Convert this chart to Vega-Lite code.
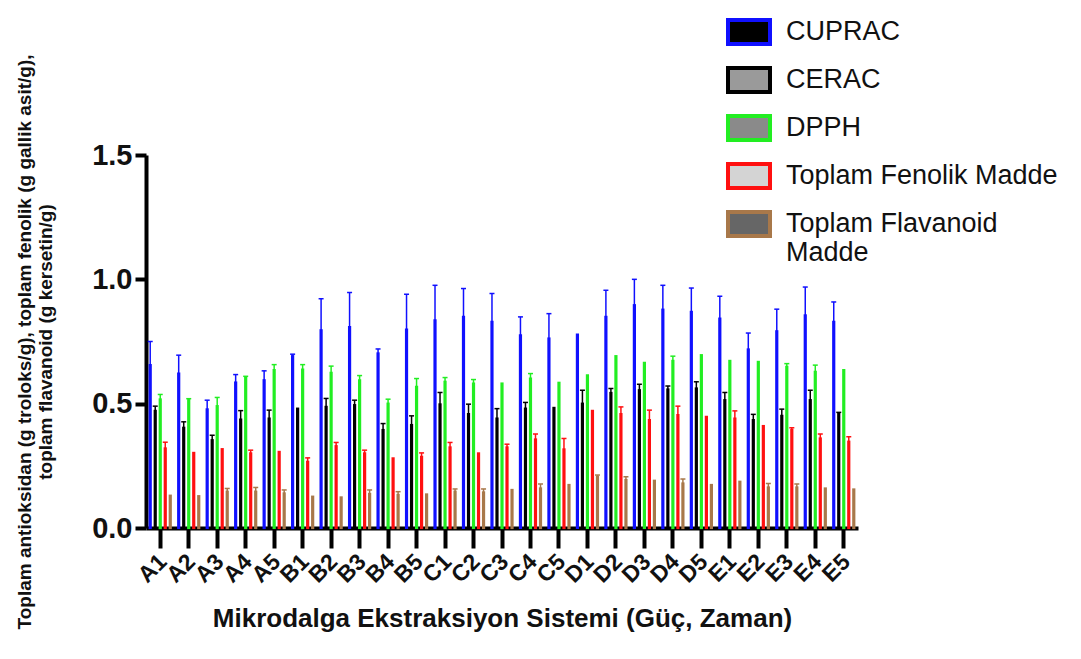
{
  "$schema": "https://vega.github.io/schema/vega-lite/v6.json",
  "width": 712,
  "height": 373,
  "autosize": {"type": "none"},
  "padding": {"left": 146, "top": 155, "right": 223, "bottom": 131},
  "config": {"view": {"stroke": null}, "font": "Liberation Sans"},
  "datasets": {
    "d": [
      {"k":"A1","s":"CUPRAC","v":0.655,"e":0.75},{"k":"A1","s":"CERAC","v":0.471,"e":0.49},{"k":"A1","s":"DPPH","v":0.517,"e":0.537},{"k":"A1","s":"Toplam Fenolik Madde","v":0.32,"e":0.345},{"k":"A1","s":"Toplam Flavanoid Madde","v":0.13,"e":0.13},
      {"k":"A2","s":"CUPRAC","v":0.621,"e":0.695},{"k":"A2","s":"CERAC","v":0.403,"e":0.427},{"k":"A2","s":"DPPH","v":0.514,"e":0.52},{"k":"A2","s":"Toplam Fenolik Madde","v":0.302,"e":0.302},{"k":"A2","s":"Toplam Flavanoid Madde","v":0.128,"e":0.128},
      {"k":"A3","s":"CUPRAC","v":0.477,"e":0.514},{"k":"A3","s":"CERAC","v":0.353,"e":0.373},{"k":"A3","s":"DPPH","v":0.49,"e":0.525},{"k":"A3","s":"Toplam Fenolik Madde","v":0.317,"e":0.317},{"k":"A3","s":"Toplam Flavanoid Madde","v":0.146,"e":0.159},
      {"k":"A4","s":"CUPRAC","v":0.585,"e":0.617},{"k":"A4","s":"CERAC","v":0.436,"e":0.472},{"k":"A4","s":"DPPH","v":0.605,"e":0.61},{"k":"A4","s":"Toplam Fenolik Madde","v":0.3,"e":0.313},{"k":"A4","s":"Toplam Flavanoid Madde","v":0.146,"e":0.163},
      {"k":"A5","s":"CUPRAC","v":0.594,"e":0.632},{"k":"A5","s":"CERAC","v":0.44,"e":0.474},{"k":"A5","s":"DPPH","v":0.635,"e":0.657},{"k":"A5","s":"Toplam Fenolik Madde","v":0.306,"e":0.306},{"k":"A5","s":"Toplam Flavanoid Madde","v":0.139,"e":0.153},
      {"k":"B1","s":"CUPRAC","v":0.691,"e":0.699},{"k":"B1","s":"CERAC","v":0.48,"e":0.48},{"k":"B1","s":"DPPH","v":0.637,"e":0.657},{"k":"B1","s":"Toplam Fenolik Madde","v":0.266,"e":0.282},{"k":"B1","s":"Toplam Flavanoid Madde","v":0.126,"e":0.126},
      {"k":"B2","s":"CUPRAC","v":0.795,"e":0.922},{"k":"B2","s":"CERAC","v":0.487,"e":0.521},{"k":"B2","s":"DPPH","v":0.624,"e":0.651},{"k":"B2","s":"Toplam Fenolik Madde","v":0.329,"e":0.344},{"k":"B2","s":"Toplam Flavanoid Madde","v":0.123,"e":0.123},
      {"k":"B3","s":"CUPRAC","v":0.808,"e":0.947},{"k":"B3","s":"CERAC","v":0.494,"e":0.514},{"k":"B3","s":"DPPH","v":0.594,"e":0.613},{"k":"B3","s":"Toplam Fenolik Madde","v":0.3,"e":0.313},{"k":"B3","s":"Toplam Flavanoid Madde","v":0.137,"e":0.153},
      {"k":"B4","s":"CUPRAC","v":0.702,"e":0.72},{"k":"B4","s":"CERAC","v":0.394,"e":0.42},{"k":"B4","s":"DPPH","v":0.5,"e":0.518},{"k":"B4","s":"Toplam Fenolik Madde","v":0.28,"e":0.28},{"k":"B4","s":"Toplam Flavanoid Madde","v":0.133,"e":0.146},
      {"k":"B5","s":"CUPRAC","v":0.798,"e":0.94},{"k":"B5","s":"CERAC","v":0.414,"e":0.451},{"k":"B5","s":"DPPH","v":0.568,"e":0.601},{"k":"B5","s":"Toplam Fenolik Madde","v":0.286,"e":0.302},{"k":"B5","s":"Toplam Flavanoid Madde","v":0.135,"e":0.135},
      {"k":"C1","s":"CUPRAC","v":0.835,"e":0.976},{"k":"C1","s":"CERAC","v":0.497,"e":0.545},{"k":"C1","s":"DPPH","v":0.588,"e":0.605},{"k":"C1","s":"Toplam Fenolik Madde","v":0.324,"e":0.344},{"k":"C1","s":"Toplam Flavanoid Madde","v":0.146,"e":0.157},
      {"k":"C2","s":"CUPRAC","v":0.849,"e":0.963},{"k":"C2","s":"CERAC","v":0.458,"e":0.498},{"k":"C2","s":"DPPH","v":0.581,"e":0.597},{"k":"C2","s":"Toplam Fenolik Madde","v":0.3,"e":0.3},{"k":"C2","s":"Toplam Flavanoid Madde","v":0.143,"e":0.157},
      {"k":"C3","s":"CUPRAC","v":0.829,"e":0.943},{"k":"C3","s":"CERAC","v":0.44,"e":0.48},{"k":"C3","s":"DPPH","v":0.581,"e":0.581},{"k":"C3","s":"Toplam Fenolik Madde","v":0.324,"e":0.337},{"k":"C3","s":"Toplam Flavanoid Madde","v":0.153,"e":0.153},
      {"k":"C4","s":"CUPRAC","v":0.775,"e":0.849},{"k":"C4","s":"CERAC","v":0.48,"e":0.505},{"k":"C4","s":"DPPH","v":0.601,"e":0.621},{"k":"C4","s":"Toplam Fenolik Madde","v":0.356,"e":0.378},{"k":"C4","s":"Toplam Flavanoid Madde","v":0.159,"e":0.177},
      {"k":"C5","s":"CUPRAC","v":0.762,"e":0.862},{"k":"C5","s":"CERAC","v":0.483,"e":0.483},{"k":"C5","s":"DPPH","v":0.584,"e":0.584},{"k":"C5","s":"Toplam Fenolik Madde","v":0.316,"e":0.36},{"k":"C5","s":"Toplam Flavanoid Madde","v":0.173,"e":0.173},
      {"k":"D1","s":"CUPRAC","v":0.778,"e":0.778},{"k":"D1","s":"CERAC","v":0.5,"e":0.554},{"k":"D1","s":"DPPH","v":0.614,"e":0.614},{"k":"D1","s":"Toplam Fenolik Madde","v":0.471,"e":0.471},{"k":"D1","s":"Toplam Flavanoid Madde","v":0.206,"e":0.213},
      {"k":"D2","s":"CUPRAC","v":0.849,"e":0.956},{"k":"D2","s":"CERAC","v":0.543,"e":0.561},{"k":"D2","s":"DPPH","v":0.691,"e":0.691},{"k":"D2","s":"Toplam Fenolik Madde","v":0.458,"e":0.487},{"k":"D2","s":"Toplam Flavanoid Madde","v":0.193,"e":0.206},
      {"k":"D3","s":"CUPRAC","v":0.896,"e":1.0},{"k":"D3","s":"CERAC","v":0.554,"e":0.578},{"k":"D3","s":"DPPH","v":0.664,"e":0.664},{"k":"D3","s":"Toplam Fenolik Madde","v":0.434,"e":0.474},{"k":"D3","s":"Toplam Flavanoid Madde","v":0.19,"e":0.19},
      {"k":"D4","s":"CUPRAC","v":0.878,"e":0.976},{"k":"D4","s":"CERAC","v":0.557,"e":0.571},{"k":"D4","s":"DPPH","v":0.672,"e":0.691},{"k":"D4","s":"Toplam Fenolik Madde","v":0.454,"e":0.49},{"k":"D4","s":"Toplam Flavanoid Madde","v":0.179,"e":0.197},
      {"k":"D5","s":"CUPRAC","v":0.869,"e":0.965},{"k":"D5","s":"CERAC","v":0.561,"e":0.588},{"k":"D5","s":"DPPH","v":0.695,"e":0.695},{"k":"D5","s":"Toplam Fenolik Madde","v":0.447,"e":0.447},{"k":"D5","s":"Toplam Flavanoid Madde","v":0.173,"e":0.173},
      {"k":"E1","s":"CUPRAC","v":0.842,"e":0.932},{"k":"E1","s":"CERAC","v":0.514,"e":0.545},{"k":"E1","s":"DPPH","v":0.672,"e":0.672},{"k":"E1","s":"Toplam Fenolik Madde","v":0.44,"e":0.471},{"k":"E1","s":"Toplam Flavanoid Madde","v":0.186,"e":0.186},
      {"k":"E2","s":"CUPRAC","v":0.718,"e":0.784},{"k":"E2","s":"CERAC","v":0.434,"e":0.457},{"k":"E2","s":"DPPH","v":0.668,"e":0.668},{"k":"E2","s":"Toplam Fenolik Madde","v":0.41,"e":0.41},{"k":"E2","s":"Toplam Flavanoid Madde","v":0.163,"e":0.179},
      {"k":"E3","s":"CUPRAC","v":0.791,"e":0.88},{"k":"E3","s":"CERAC","v":0.451,"e":0.478},{"k":"E3","s":"DPPH","v":0.648,"e":0.661},{"k":"E3","s":"Toplam Fenolik Madde","v":0.394,"e":0.403},{"k":"E3","s":"Toplam Flavanoid Madde","v":0.163,"e":0.177},
      {"k":"E4","s":"CUPRAC","v":0.855,"e":0.969},{"k":"E4","s":"CERAC","v":0.514,"e":0.554},{"k":"E4","s":"DPPH","v":0.628,"e":0.655},{"k":"E4","s":"Toplam Fenolik Madde","v":0.36,"e":0.378},{"k":"E4","s":"Toplam Flavanoid Madde","v":0.159,"e":0.159},
      {"k":"E5","s":"CUPRAC","v":0.829,"e":0.909},{"k":"E5","s":"CERAC","v":0.458,"e":0.465},{"k":"E5","s":"DPPH","v":0.635,"e":0.635},{"k":"E5","s":"Toplam Fenolik Madde","v":0.347,"e":0.367},{"k":"E5","s":"Toplam Flavanoid Madde","v":0.155,"e":0.155}
    ]
  },
  "data": {"name": "d"},
  "encoding": {
    "x": {
      "field": "k", "type": "nominal", "sort": null,
      "scale": {"paddingInner": 0.12, "paddingOuter": 0.06},
      "axis": {
        "title": "Mikrodalga Ekstraksiyon Sistemi (Güç, Zaman)",
        "titleFontSize": 26, "titleFontWeight": "bold", "titleColor": "#111", "titlePadding": 18,
        "labelAngle": -45, "labelFontSize": 23, "labelFontWeight": "bold", "labelColor": "#111", "labelPadding": 2, "labelOffset": -5,
        "domainColor": "#000", "domainWidth": 4, "tickColor": "#000", "tickWidth": 4, "tickSize": 20,
        "grid": false
      }
    },
    "xOffset": {
      "field": "s", "type": "nominal",
      "scale": {"domain": ["CUPRAC", "CERAC", "DPPH", "Toplam Fenolik Madde", "Toplam Flavanoid Madde"], "paddingInner": 0.8, "paddingOuter": 0.4}
    }
  },
  "layer": [
    {
      "mark": {"type": "bar", "strokeWidth": 2.2},
      "encoding": {
        "y": {
          "field": "v", "type": "quantitative",
          "scale": {"domain": [0, 1.5], "nice": false},
          "axis": {
            "title": ["Toplam antioksidan (g troloks/g), toplam fenolik (g gallik asit/g),", "toplam flavanoid (g kersetin/g)"],
            "titleFontSize": 19, "titleFontWeight": "bold", "titleColor": "#111", "titlePadding": 36, "titleLineHeight": 21,
            "values": [0, 0.5, 1, 1.5], "format": ".1f",
            "labelFontSize": 29, "labelFontWeight": "bold", "labelColor": "#111", "labelPadding": 3,
            "domainColor": "#000", "domainWidth": 4, "tickColor": "#000", "tickWidth": 4, "tickSize": 11,
            "grid": false
          }
        },
        "fill": {
          "field": "s", "type": "nominal",
          "scale": {"domain": ["CUPRAC", "CERAC", "DPPH", "Toplam Fenolik Madde", "Toplam Flavanoid Madde"], "range": ["#000000", "#9a9a9a", "#8a8a8a", "#d4d4d4", "#666666"]},
          "legend": {
            "title": null, "orient": "none", "legendX": 580, "legendY": -146,
            "symbolType": "M-1,-0.57H1V0.57H-1Z", "symbolSize": 1764, "symbolStrokeWidth": 4,
            "labelFontSize": 27, "labelColor": "#111", "labelOffset": 14, "labelLimit": 400,
            "rowPadding": 5, "padding": 0,
            "labelExpr": "datum.label == 'Toplam Flavanoid Madde' ? ['Toplam Flavanoid', 'Madde'] : datum.label"
          }
        },
        "stroke": {
          "field": "s", "type": "nominal",
          "scale": {"domain": ["CUPRAC", "CERAC", "DPPH", "Toplam Fenolik Madde", "Toplam Flavanoid Madde"], "range": ["#1010ff", "#000000", "#22ee22", "#ff1010", "#a8784a"]}
        }
      }
    },
    {
      "transform": [{"filter": "datum.e > datum.v"}],
      "mark": {"type": "rule", "strokeWidth": 1.5},
      "encoding": {
        "y": {"field": "v", "type": "quantitative"},
        "y2": {"field": "e"},
        "stroke": {"field": "s", "type": "nominal", "legend": null}
      }
    },
    {
      "transform": [{"filter": "datum.e > datum.v"}],
      "mark": {"type": "point", "shape": "M-1,0H1", "size": 25, "filled": false, "strokeWidth": 1.5, "opacity": 1},
      "encoding": {
        "y": {"field": "e", "type": "quantitative"},
        "stroke": {"field": "s", "type": "nominal", "legend": null}
      }
    }
  ]
}
